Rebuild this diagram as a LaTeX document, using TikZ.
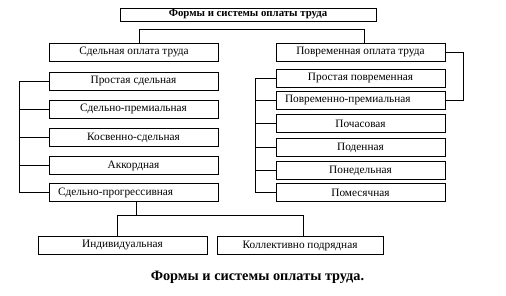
\documentclass[tikz,border=0pt]{standalone}
\usepackage{fontspec}
\setmainfont{Liberation Serif}
\usetikzlibrary{arrows,positioning}

\tikzset{
  box/.style={draw,line width=0.7pt,minimum width=169pt,minimum height=18pt,
    inner sep=0pt,font=\fontsize{11.3}{13}\selectfont},
  leftbox/.style={box,text width=151pt,inner xsep=9pt,align=left},
  wire/.style={line width=0.7pt}
}

\begin{document}
\begin{tikzpicture}[x=1pt,y=-1pt]
\useasboundingbox (0,0) rectangle (506,295);

% title
\node[draw,line width=0.7pt,minimum width=256pt,minimum height=13pt,inner sep=0pt,
  font=\fontsize{10.8}{12}\selectfont\bfseries] (forms) at (248,14.5) {Формы и системы оплаты труда};

% piece-rate side
\node[box] (piece) at (134,52) {Сдельная оплата труда};
\node[box] (pc1) at (133.5,81) {Простая сдельная};
\node[box] (pc2) at (133.5,109) {Сдельно-премиальная};
\node[box] (pc3) at (133.5,137.5) {Косвенно-сдельная};
\node[box] (pc4) at (133.5,165.5) {Аккордная};
\node[leftbox] (pc5) at (133.5,192.5) {Сдельно-прогрессивная};

% time-rate side
\node[box] (time) at (360.5,52) {Повременная оплата труда};
\node[box] (tm1) at (360.5,78) {Простая повременная};
\node[leftbox] (tm2) at (360.5,100) {Повременно-премиальная};
\node[box] (tm3) at (360.5,123.5) {Почасовая};
\node[box] (tm4) at (360.5,147.5) {Поденная};
\node[box] (tm5) at (360.5,170.5) {Понедельная};
\node[box] (tm6) at (360.5,192.5) {Помесячная};

% bottom
\node[box] (indiv) at (122.5,245.5) {Индивидуальная};
\node[box,minimum width=166pt] (coll) at (300,245.5) {Коллективно подрядная};

\node[font=\fontsize{14.3}{16}\selectfont\bfseries] (caption) at (257.5,277) {Формы и системы оплаты труда.};

% connectors
\draw[wire] ([xshift=5pt]piece.north) -- ++(0,-13) -| ([xshift=4pt]time.north);
\draw[wire] (time.east) -- ++(18,0) |- (tm2.east);

\draw[wire] (pc1.west) -- ++(-29,0) |- (pc5.west);
\draw[wire] (pc2.west) -- ++(-29,0);
\draw[wire] (pc3.west) -- ++(-29,0);
\draw[wire] (pc4.west) -- ++(-29,0);

\draw[wire] (tm1.west) -- ++(-20,0) |- (tm6.west);
\draw[wire] (tm2.west) -- ++(-20,0);
\draw[wire] (tm3.west) -- ++(-20,0);
\draw[wire] (tm4.west) -- ++(-20,0);
\draw[wire] (tm5.west) -- ++(-20,0);

\draw[wire] ([xshift=3pt]pc5.south) -- ++(0,13.5) coordinate (fork);
\draw[wire] ([xshift=-5.5pt]indiv.north) |- (fork) -| ([xshift=3pt]coll.north);
\end{tikzpicture}
\end{document}
